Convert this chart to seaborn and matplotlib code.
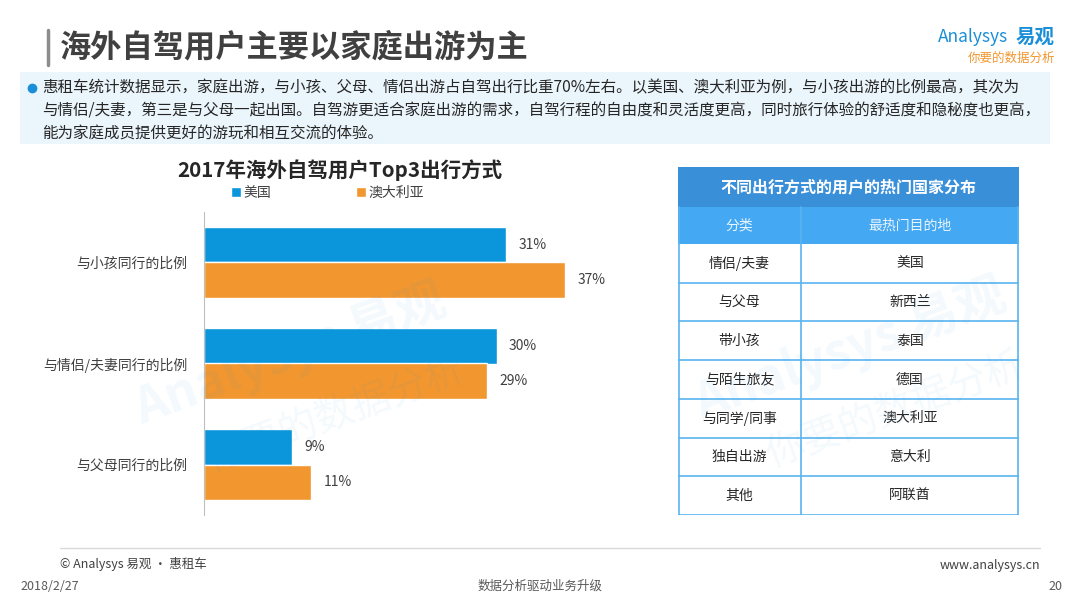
import pandas as pd
import matplotlib.pyplot as plt
import seaborn as sns
from matplotlib.patches import Rectangle

# --- data ---
categories = ['与小孩同行的比例', '与情侣/夫妻同行的比例', '与父母同行的比例']
usa_share = [31, 30, 9]
aus_share = [37, 29, 11]
series_names = ['美国', '澳大利亚']

table_cols = ['分类', '最热门目的地']
table_kind = ['情侣/夫妻', '与父母', '带小孩', '与陌生旅友', '与同学/同事', '独自出游', '其他']
table_dest = ['美国', '新西兰', '泰国', '德国', '澳大利亚', '意大利', '阿联酋']

df = pd.DataFrame({
    'cat': categories * 2,
    'value': usa_share + aus_share,
    'country': [series_names[0]] * 3 + [series_names[1]] * 3,
})

BLUE = '#0b96dc'
ORANGE = '#f29730'
GRAY_TXT = '#404040'

sns.set_style('white')
plt.rcParams['font.family'] = ['Noto Sans CJK SC', 'DejaVu Sans']

W, H = 1080, 608
fig = plt.figure(figsize=(10.8, 6.08), dpi=100)


def fx(px):
    return px / W


def fy(py):
    return 1 - py / H


# --- page header ---
fig.add_artist(plt.Line2D([fx(48), fx(48)], [fy(30), fy(65)], color='#8c8c8c', lw=2.5))
fig.text(fx(60), fy(47), '海外自驾用户主要以家庭出游为主', fontsize=22.5, fontweight='bold',
         color=GRAY_TXT, va='center', ha='left')
fig.text(fx(1008), fy(37), 'Analysys', fontsize=12.5, style='italic', color='#1a8fd8',
         ha='right', va='center')
fig.text(fx(1055), fy(37), '易观', fontsize=14, fontweight='bold', color='#1a8fd8',
         ha='right', va='center')
fig.text(fx(1055), fy(58), '你要的数据分析', fontsize=9, style='italic', color='#f29730',
         ha='right', va='center')

# summary box
fig.add_artist(Rectangle((fx(20), fy(144)), fx(1030), 72 / H, transform=fig.transFigure,
                         facecolor='#ebf5fc', edgecolor='none', zorder=0))
fig.add_artist(plt.Line2D([fx(32)], [fy(88)], marker='o', ms=6, color='#1a8fd8'))
lines = ['惠租车统计数据显示，家庭出游，与小孩、父母、情侣出游占自驾出行比重70%左右。以美国、澳大利亚为例，与小孩出游的比例最高，其次为',
         '与情侣/夫妻，第三是与父母一起出国。自驾游更适合家庭出游的需求，自驾行程的自由度和灵活度更高，同时旅行体验的舒适度和隐秘度也更高，',
         '能为家庭成员提供更好的游玩和相互交流的体验。']
for i, t in enumerate(lines):
    fig.text(fx(42), fy(88 + 22.5 * i), t, fontsize=11.2, color='#262626', va='center', ha='left')

# --- bar chart ---
ax = fig.add_axes([fx(204), fy(515), fx(390), 303 / H])
sns.barplot(data=df, y='cat', x='value', hue='country', orient='h',
            palette=[BLUE, ORANGE], width=0.71, saturation=1, ax=ax, legend=True)
ax.set_xlim(0, 40)
ax.set_ylim(2.5, -0.5)
ax.set_xlabel('')
ax.set_ylabel('')
ax.set_xticks([])
ax.tick_params(axis='y', length=0, labelsize=10, labelcolor=GRAY_TXT, pad=12)
for s in ['top', 'right', 'bottom']:
    ax.spines[s].set_visible(False)
ax.spines['left'].set_color('#bfbfbf')
for cont in ax.containers:
    ax.bar_label(cont, labels=[f'{int(v)}%' for v in cont.datavalues], padding=9,
                 fontsize=10, color=GRAY_TXT)

handles, labels = ax.get_legend_handles_labels()
ax.legend(handles, labels, ncol=2, loc='center left', bbox_to_anchor=(fx(224), fy(193)),
          bbox_transform=fig.transFigure, frameon=False, fontsize=10, handlelength=0.75,
          handleheight=0.75, handletextpad=0.15, columnspacing=6.1, borderpad=0, labelcolor=GRAY_TXT)

fig.text(fx(340), fy(170), '2017年海外自驾用户Top3出行方式', fontsize=14.8, fontweight='bold',
         color='#262626', ha='center', va='center')

# --- table ---
tx = fig.add_axes([fx(678), fy(515), fx(341), 348 / H])
tx.set_xlim(0, 341)
tx.set_ylim(348, 0)
tx.axis('off')
split = 123
line_c = '#5ab4f0'
tx.add_patch(Rectangle((0, 0), 341, 40, facecolor='#3a8fd9', edgecolor='none'))
tx.text(170.5, 20, '不同出行方式的用户的热门国家分布', fontsize=11.5, fontweight='bold',
        color='white', ha='center', va='center')
tx.add_patch(Rectangle((0, 40), 341, 37, facecolor='#45a8f2', edgecolor='none'))
tx.text(split / 2, 58.5, table_cols[0], fontsize=10, color='#e8f4ff', ha='center', va='center')
tx.text((split + 341) / 2, 58.5, table_cols[1], fontsize=10, color='#e8f4ff', ha='center', va='center')
row_h = (348 - 77) / len(table_kind)
for i, (k, d) in enumerate(zip(table_kind, table_dest)):
    y0 = 77 + i * row_h
    tx.text(split / 2, y0 + row_h / 2, k, fontsize=10, color='#262626', ha='center', va='center')
    tx.text((split + 341) / 2, y0 + row_h / 2, d, fontsize=10, color='#262626', ha='center', va='center')
    tx.plot([0, 341], [y0 + row_h, y0 + row_h], color=line_c, lw=1.2)
tx.plot([split, split], [40, 348], color=line_c, lw=1.2)
tx.plot([0.6, 0.6], [40, 348], color=line_c, lw=1.2)
tx.plot([340.4, 340.4], [40, 348], color=line_c, lw=1.2)

# faint watermarks (two copies, like the slide)
for cx, cy in [(290, 355), (850, 350)]:
    fig.text(fx(cx), fy(cy), 'Analysys 易观', fontsize=36, fontweight='bold', color='#1a8fd8',
             alpha=0.05, rotation=20, ha='center', va='center', zorder=5)
    fig.text(fx(cx + 45), fy(cy + 60), '你要的数据分析', fontsize=28, color='#1a8fd8',
             alpha=0.05, rotation=20, ha='center', va='center', zorder=5)

# --- footer ---
fig.add_artist(plt.Line2D([fx(60), fx(1040)], [fy(548), fy(548)], color='#d9d9d9', lw=1))
fig.text(fx(60), fy(564), '© Analysys 易观 · 惠租车', fontsize=9, color='#404040', va='center')
fig.text(fx(1040), fy(566), 'www.analysys.cn', fontsize=9, color='#404040', va='center', ha='right')
fig.text(fx(20), fy(586), '2018/2/27', fontsize=9, color='#595959', va='center')
fig.text(fx(540), fy(586), '数据分析驱动业务升级', fontsize=9, color='#595959', va='center', ha='center')
fig.text(fx(1062), fy(586), '20', fontsize=9, color='#595959', va='center', ha='right')

fig.savefig('out.png', dpi=100)
